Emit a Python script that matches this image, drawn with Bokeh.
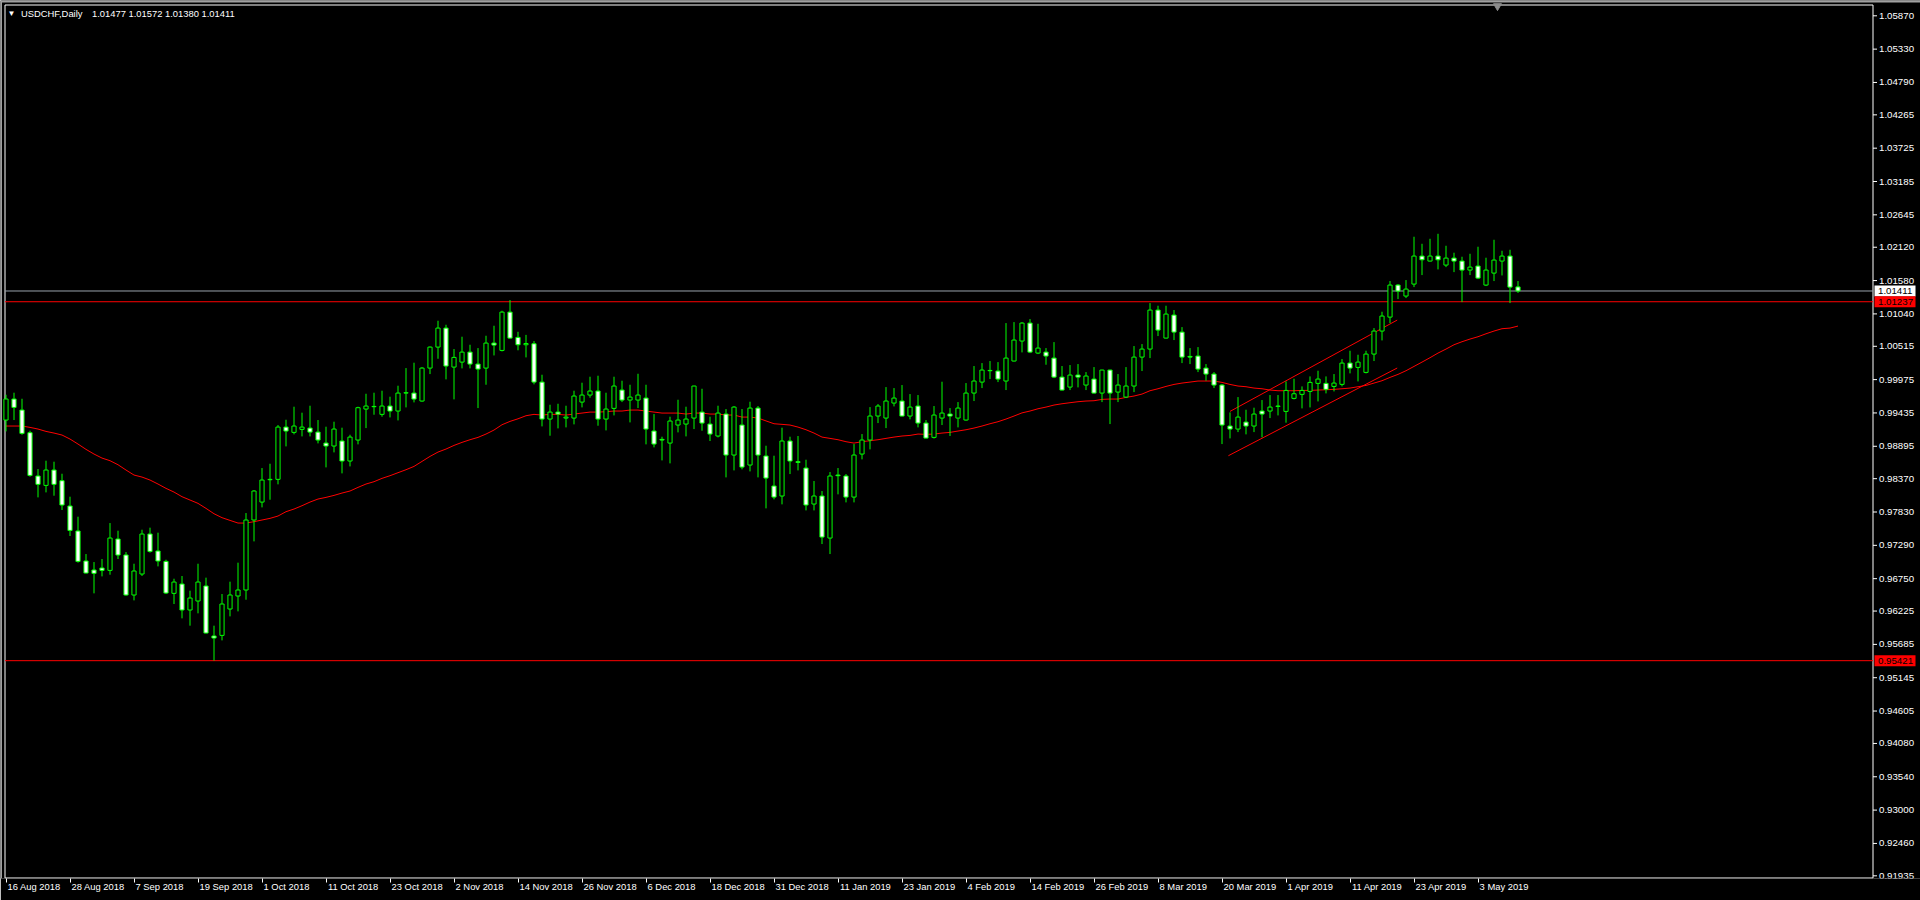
import pandas as pd
from bokeh.plotting import figure
from bokeh.models import Range1d, FixedTicker, Label, ColumnDataSource, CustomJSTickFormatter
from bokeh.core.properties import value
from bokeh.embed import file_html
from bokeh.resources import INLINE

# ---------------- data ----------------
symbol = "USDCHF,Daily"
last_ohlc = [1.01477, 1.01572, 1.01380, 1.01411]

opens = [0.99320, 0.99660, 0.99482, 0.99115, 0.98413, 0.98261, 0.98510, 0.98337, 0.97927, 0.97522,
         0.97036, 0.96890, 0.96922, 0.96884, 0.97392, 0.97133, 0.96485, 0.96825, 0.97473, 0.97198,
         0.97030, 0.96512, 0.96663, 0.96242, 0.96388, 0.96631, 0.95821, 0.95831, 0.96258, 0.96469,
         0.96566, 0.97700, 0.97991, 0.98353, 0.98359, 0.99206, 0.99120, 0.99169, 0.99190, 0.99125,
         0.98947, 0.98899, 0.98980, 0.98656, 0.98996, 0.99498, 0.99541, 0.99412, 0.99547, 0.99466,
         0.99757, 0.99757, 0.99628, 1.00162, 1.00502, 1.00810, 1.00178, 1.00259, 1.00421, 1.00227,
         1.00162, 1.00567, 1.00448, 1.01069, 1.00659, 1.00540, 1.00556, 0.99935, 0.99336, 0.99449,
         0.99352, 0.99352, 0.99611, 0.99725, 0.99790, 0.99336, 0.99509, 0.99806, 0.99644, 0.99644,
         0.99676, 0.99142, 0.99007, 0.98947, 0.99239, 0.99255, 0.99352, 0.99449, 0.99255, 0.99061,
         0.99417, 0.98753, 0.99239, 0.98591, 0.99514, 0.98737, 0.98251, 0.98089, 0.98980, 0.98645,
         0.98542, 0.97959, 0.98089, 0.97408, 0.98429, 0.98413, 0.98072, 0.98769, 0.98996, 0.99385,
         0.99352, 0.99595, 0.99628, 0.99385, 0.99547, 0.99271, 0.99039, 0.99352, 0.99417, 0.99352,
         0.99320, 0.99757, 0.99935, 1.00119, 1.00114, 0.99952, 1.00276, 1.00600, 1.00891, 1.00405,
         1.00421, 1.00324, 1.00016, 0.99854, 1.00049, 0.99887, 0.99984, 0.99757, 1.00130, 0.99773,
         0.99692, 0.99871, 1.00340, 1.00470, 1.01102, 1.00648, 1.01021, 1.00745, 1.00351, 1.00357,
         1.00162, 1.00065, 0.99887, 0.99223, 0.99174, 0.99287, 0.99223, 0.99466, 0.99466, 0.99541,
         0.99460, 0.99671, 0.99736, 0.99784, 0.99914, 0.99914, 0.99865, 0.99898, 1.00243, 1.00173,
         1.00092, 1.00389, 1.00762, 1.00988, 1.01507, 1.01329, 1.01523, 1.01977, 1.01896, 1.01977,
         1.01831, 1.01944, 1.01896, 1.01750, 1.01815, 1.01507, 1.01701, 1.01896, 1.01977, 1.01477]

highs = [0.99730, 0.99763, 0.99665, 0.99147, 0.98526, 0.98661, 0.98645, 0.98450, 0.98078, 0.97754,
         0.97149, 0.97019, 0.97068, 0.97651, 0.97527, 0.97181, 0.96992, 0.97543, 0.97576, 0.97495,
         0.97057, 0.96749, 0.96793, 0.96555, 0.96992, 0.96766, 0.95988, 0.96501, 0.96701, 0.97009,
         0.97813, 0.98186, 0.98542, 0.98612, 0.99239, 0.99325, 0.99536, 0.99439, 0.99552, 0.99320,
         0.99212, 0.99293, 0.99196, 0.99082, 0.99536, 0.99746, 0.99763, 0.99795, 0.99698, 0.99876,
         1.00162, 1.00249, 1.00178, 1.00513, 1.00929, 1.00864, 1.00470, 1.00670, 1.00540, 1.00486,
         1.00686, 1.00848, 1.01091, 1.01264, 1.00750, 1.00700, 1.00600, 1.00054, 0.99568, 0.99584,
         0.99552, 0.99795, 0.99925, 1.00022, 1.00038, 0.99763, 1.00022, 0.99957, 0.99892, 1.00070,
         0.99892, 0.99417, 0.99050, 0.99374, 0.99649, 0.99536, 0.99876, 0.99827, 0.99374, 0.99552,
         0.99498, 0.99547, 0.99498, 0.99617, 0.99547, 0.98904, 0.98742, 0.99196, 0.99050, 0.99061,
         0.98677, 0.98332, 0.98170, 0.98477, 0.98542, 0.98445, 0.98931, 0.99093, 0.99530, 0.99579,
         0.99854, 0.99838, 0.99887, 0.99741, 0.99725, 0.99320, 0.99547, 0.99941, 0.99514, 0.99611,
         0.99919, 1.00195, 1.00243, 1.00276, 1.00259, 1.00891, 1.00907, 1.00907, 1.00956, 1.00880,
         1.00486, 1.00583, 1.00195, 1.00211, 1.00227, 1.00097, 1.00178, 1.00135, 1.00135, 1.00065,
         1.00178, 1.00519, 1.00551, 1.01215, 1.01172, 1.01172, 1.01102, 1.00826, 1.00486, 1.00502,
         1.00227, 1.00097, 0.99903, 0.99444, 0.99692, 0.99487, 0.99520, 0.99644, 0.99725, 0.99725,
         0.99946, 0.99989, 0.99865, 1.00027, 1.00119, 1.00027, 1.00065, 1.00308, 1.00443, 1.00378,
         1.00443, 1.00810, 1.01075, 1.01572, 1.01523, 1.01588, 1.02290, 1.02176, 1.02257, 1.02338,
         1.02144, 1.02031, 1.01966, 1.02014, 1.02128, 1.01950, 1.02241, 1.02063, 1.02079, 1.01572]

lows = [0.99136, 0.99320, 0.99082, 0.98402, 0.98067, 0.98148, 0.98094, 0.97862, 0.97441, 0.97009,
        0.96836, 0.96512, 0.96787, 0.96814, 0.97068, 0.96474, 0.96398, 0.96793, 0.97171, 0.96949,
        0.96501, 0.96339, 0.96107, 0.95988, 0.96188, 0.95864, 0.95421, 0.95750, 0.96139, 0.96220,
        0.96409, 0.97354, 0.97905, 0.98029, 0.98278, 0.98893, 0.99088, 0.99055, 0.99055, 0.98942,
        0.98553, 0.98796, 0.98456, 0.98569, 0.98926, 0.99190, 0.99406, 0.99374, 0.99363, 0.99314,
        0.99525, 0.99606, 0.99617, 1.00065, 1.00313, 0.99979, 0.99655, 1.00157, 1.00157, 0.99514,
        0.99892, 1.00367, 1.00432, 1.00640, 1.00450, 1.00335, 0.99898, 0.99217, 0.99066, 0.99185,
        0.99201, 0.99250, 0.99525, 0.99682, 0.99228, 0.99152, 0.99395, 0.99611, 0.99282, 0.99514,
        0.98926, 0.98877, 0.98666, 0.98618, 0.99120, 0.99055, 0.99174, 0.99147, 0.98980, 0.99039,
        0.98391, 0.98504, 0.98521, 0.98488, 0.98391, 0.97889, 0.98035, 0.97954, 0.98445, 0.98504,
        0.97856, 0.97856, 0.97311, 0.97149, 0.98116, 0.97986, 0.97986, 0.98683, 0.98845, 0.99271,
        0.99190, 0.99541, 0.99380, 0.99331, 0.99201, 0.99023, 0.99020, 0.99239, 0.99061, 0.99201,
        0.99310, 0.99628, 0.99838, 0.99984, 0.99935, 0.99806, 1.00270, 1.00416, 1.00405, 1.00389,
        1.00216, 1.00000, 0.99800, 0.99806, 0.99849, 0.99806, 0.99752, 0.99611, 0.99255, 0.99611,
        0.99676, 0.99773, 1.00114, 1.00324, 1.00681, 1.00643, 1.00616, 1.00243, 1.00227, 1.00097,
        0.99957, 0.99838, 0.98931, 0.99023, 0.99125, 0.99088, 0.99125, 0.99039, 0.99352, 0.99395,
        0.99277, 0.99655, 0.99509, 0.99525, 0.99622, 0.99752, 0.99784, 0.99865, 1.00076, 0.99946,
        1.00076, 1.00276, 1.00610, 1.00891, 1.01280, 1.01296, 1.01474, 1.01669, 1.01890, 1.01761,
        1.01798, 1.01717, 1.01231, 1.01669, 1.01604, 1.01491, 1.01572, 1.01663, 1.01215, 1.01380]

closes = [0.99660, 0.99525, 0.99104, 0.98423, 0.98278, 0.98510, 0.98278, 0.97943, 0.97532, 0.97030,
          0.96841, 0.96836, 0.96884, 0.97408, 0.97133, 0.96485, 0.96874, 0.97473, 0.97192, 0.97036,
          0.96517, 0.96695, 0.96242, 0.96436, 0.96695, 0.95869, 0.95788, 0.96339, 0.96485, 0.96566,
          0.97700, 0.98170, 0.98348, 0.98359, 0.99206, 0.99142, 0.99223, 0.99206, 0.99125, 0.98996,
          0.98899, 0.99174, 0.98656, 0.99044, 0.99520, 0.99547, 0.99536, 0.99547, 0.99466, 0.99757,
          0.99763, 0.99660, 1.00162, 1.00502, 1.00810, 1.00195, 1.00335, 1.00421, 1.00227, 1.00146,
          1.00567, 1.00535, 1.01069, 1.00648, 1.00540, 1.00560, 0.99935, 0.99336, 0.99449, 0.99417,
          0.99368, 0.99709, 0.99725, 0.99790, 0.99336, 0.99498, 0.99871, 0.99644, 0.99692, 0.99725,
          0.99174, 0.98931, 0.98996, 0.99304, 0.99320, 0.99336, 0.99871, 0.99271, 0.99093, 0.99433,
          0.98753, 0.99530, 0.98558, 0.99514, 0.98753, 0.98380, 0.98072, 0.98980, 0.98656, 0.98634,
          0.97943, 0.98089, 0.97424, 0.98413, 0.98418, 0.98072, 0.98753, 0.98996, 0.99385, 0.99547,
          0.99628, 0.99676, 0.99385, 0.99530, 0.99271, 0.99028, 0.99401, 0.99433, 0.99385, 0.99514,
          0.99757, 0.99952, 1.00130, 1.00124, 0.99984, 1.00324, 1.00616, 1.00891, 1.00421, 1.00486,
          1.00357, 1.00016, 0.99806, 1.00049, 1.00016, 1.00033, 0.99757, 1.00130, 0.99757, 0.99887,
          0.99871, 1.00340, 1.00470, 1.01102, 1.00778, 1.01037, 1.00745, 1.00340, 1.00340, 1.00146,
          1.00065, 0.99887, 0.99239, 0.99174, 0.99368, 0.99223, 0.99417, 0.99417, 0.99530, 0.99547,
          0.99800, 0.99746, 0.99800, 0.99930, 0.99984, 0.99817, 0.99919, 1.00243, 1.00162, 1.00259,
          1.00389, 1.00762, 1.01005, 1.01507, 1.01410, 1.01442, 1.01977, 1.01917, 1.01977, 1.01917,
          1.01944, 1.01896, 1.01750, 1.01798, 1.01620, 1.01750, 1.01912, 1.01977, 1.01474, 1.01411]

ma_index = [0, 2, 3, 4, 5, 6, 7, 8, 9, 10, 11, 12, 13, 14, 15, 16, 17, 18, 19, 20,
            21, 22, 23, 24, 25, 26, 27, 28, 29, 30, 31, 32, 33, 34, 35, 36, 37, 38, 39, 40,
            41, 42, 43, 44, 45, 46, 47, 48, 49, 50, 51, 52, 53, 54, 55, 56, 57, 58, 59, 60,
            61, 62, 63, 64, 65, 66, 67, 68, 69, 70, 71, 72, 73, 74, 75, 76, 77, 78, 79, 80,
            81, 82, 83, 84, 85, 86, 87, 88, 89, 90, 91, 92, 93, 94, 95, 96, 97, 98, 99, 100,
            101, 102, 103, 104, 105, 106, 107, 108, 109, 110, 111, 112, 113, 114, 115, 116, 117, 118, 119, 120,
            121, 122, 123, 124, 125, 126, 127, 128, 129, 130, 131, 132, 133, 134, 135, 136, 137, 138, 139, 140,
            141, 142, 143, 144, 145, 146, 147, 148, 149, 150, 151, 152, 153, 154, 155, 156, 157, 158, 159, 160,
            161, 162, 163, 164, 165, 166, 167, 168, 169, 170, 171, 172, 173, 174, 175, 176, 177, 178, 179, 180,
            181, 182, 183, 184, 185, 186, 187, 188, 189]
ma_values = [0.99223, 0.99223, 0.99201, 0.99174, 0.99136, 0.99109, 0.99077, 0.99012, 0.98931, 0.98845,
             0.98769, 0.98704, 0.98661, 0.98596, 0.98510, 0.98429, 0.98396, 0.98348, 0.98283, 0.98213,
             0.98153, 0.98078, 0.98024, 0.97970, 0.97889, 0.97802, 0.97738, 0.97694, 0.97651, 0.97651,
             0.97673, 0.97700, 0.97727, 0.97765, 0.97835, 0.97878, 0.97932, 0.97991, 0.98040, 0.98067,
             0.98099, 0.98137, 0.98170, 0.98229, 0.98283, 0.98321, 0.98375, 0.98418, 0.98467, 0.98515,
             0.98569, 0.98650, 0.98731, 0.98801, 0.98850, 0.98909, 0.98958, 0.99001, 0.99039, 0.99093,
             0.99158, 0.99244, 0.99298, 0.99340, 0.99390, 0.99412, 0.99401, 0.99412, 0.99412, 0.99401,
             0.99417, 0.99433, 0.99449, 0.99449, 0.99455, 0.99466, 0.99466, 0.99482, 0.99482, 0.99466,
             0.99449, 0.99433, 0.99433, 0.99433, 0.99417, 0.99433, 0.99433, 0.99417, 0.99417, 0.99401,
             0.99401, 0.99368, 0.99368, 0.99352, 0.99306, 0.99260, 0.99250, 0.99239, 0.99206, 0.99163,
             0.99109, 0.99044, 0.99023, 0.99001, 0.98969, 0.98947, 0.98969, 0.98985, 0.99001, 0.99023,
             0.99044, 0.99061, 0.99071, 0.99093, 0.99088, 0.99093, 0.99109, 0.99120, 0.99142, 0.99163,
             0.99190, 0.99223, 0.99260, 0.99293, 0.99336, 0.99385, 0.99436, 0.99466, 0.99503, 0.99530,
             0.99563, 0.99584, 0.99601, 0.99617, 0.99628, 0.99633, 0.99655, 0.99660, 0.99660, 0.99687,
             0.99709, 0.99741, 0.99795, 0.99827, 0.99865, 0.99897, 0.99919, 0.99935, 0.99952, 0.99952,
             0.99952, 0.99930, 0.99897, 0.99871, 0.99860, 0.99838, 0.99827, 0.99806, 0.99795, 0.99795,
             0.99795, 0.99800, 0.99800, 0.99806, 0.99811, 0.99817, 0.99827, 0.99838, 0.99860, 0.99881,
             0.99919, 0.99957, 1.00011, 1.00060, 1.00119, 1.00189, 1.00259, 1.00330, 1.00405, 1.00470,
             1.00540, 1.00589, 1.00632, 1.00670, 1.00718, 1.00762, 1.00800, 1.00810, 1.00843]

# channel trend lines (bar index, price): start -> end
trend_x0 = [152.8, 153.0]
trend_y0 = [0.98742, 0.99460]
trend_x1 = [173.9, 173.9]
trend_y1 = [1.00163, 1.00940]

price_ticks = [1.05870, 1.05330, 1.04790, 1.04265, 1.03725, 1.03185, 1.02645, 1.02120, 1.01580,
               1.01040, 1.00515, 0.99975, 0.99435, 0.98895, 0.98370, 0.97830, 0.97290, 0.96750,
               0.96225, 0.95685, 0.95145, 0.94605, 0.94080, 0.93540, 0.93000, 0.92460, 0.91935]

resistance_level = 1.01237
support_level = 0.95421
bid_level = 1.01411

holidays = ["2018-12-25", "2019-01-01"]
bar_dates = pd.bdate_range("2018-08-16", "2019-05-10")
bar_dates = bar_dates[~bar_dates.isin(pd.to_datetime(holidays))]
label_step = 8

# ---------------- layout (reference pixels, 1:1) ----------------
W, H = 1920, 900
BOTTOM_BORDER = 22           # date-label strip below the chart frame
FRAME_BOTTOM = H - BOTTOM_BORDER
BAR_PX = 8.0                 # bar spacing in pixels
PRICE_PER_PX = 0.00016203
REF_PRICE, REF_Y = 1.05870, 15.3


def dx(px):
    """pixel x -> bar index"""
    return (px - 5.5) / BAR_PX


def dy(py):
    """pixel y -> price"""
    return REF_PRICE - (py - REF_Y) * PRICE_PER_PX


FONT = "Liberation Sans"
GREEN = "#00ff00"
RED = "#ff0000"
BID_GRAY = "#99a2ac"
EDGE_GRAY = "#a0a0a0"
DATE_FS = 9.4
PRICE_FS = 9.7
TITLE_FS = 9.4

CHAR_W = {" ": 278, ".": 278, "A": 667, "u": 556, "g": 556, "S": 667, "e": 556, "p": 556,
          "O": 778, "c": 500, "t": 278, "N": 722, "o": 556, "v": 500, "D": 722, "J": 500,
          "a": 556, "n": 556, "F": 611, "b": 556, "M": 833, "r": 333, "y": 500}


def text_w(s, size):
    return sum(CHAR_W.get(ch, 556) for ch in s) * size / 1000.0


p = figure(width=W, height=H,
           min_border_left=0, min_border_top=0, min_border_right=0, min_border_bottom=BOTTOM_BORDER,
           output_backend="svg", toolbar_location=None,
           x_range=Range1d(dx(0), dx(W)),
           y_range=Range1d(dy(FRAME_BOTTOM), dy(0)),
           y_axis_location=None,
           background_fill_color="black", border_fill_color="black")
p.grid.visible = False
p.outline_line_color = None

# ---------------- x axis: dates, text starting just right of the tick ----------------
n = len(opens)
tick_idx = list(range(0, n, label_step))
date_labels = [f"{bar_dates[i].day} {bar_dates[i].strftime('%b %Y')}" for i in tick_idx]
label_pos = [i + (1.5 + text_w(lbl, DATE_FS) / 2) / BAR_PX for i, lbl in zip(tick_idx, date_labels)]
xa = p.xaxis[0]
xa.ticker = FixedTicker(ticks=label_pos, minor_ticks=tick_idx)
xa.formatter = CustomJSTickFormatter(args=dict(pos=label_pos, labels=date_labels), code="""
    let best = -1, d = 1e9;
    for (let k = 0; k < pos.length; k++) { const e = Math.abs(pos[k] - tick); if (e < d) { d = e; best = k; } }
    return d < 1e-6 ? labels[best] : "";
""")
xa.axis_line_color = None
xa.major_tick_line_color = None
xa.major_tick_in = 0
xa.major_tick_out = 0
xa.minor_tick_line_color = "white"
xa.minor_tick_in = 0
xa.minor_tick_out = 4
xa.major_label_text_color = "white"
xa.major_label_text_font = FONT
xa.major_label_text_font_size = f"{DATE_FS}px"
xa.major_label_standoff = -2

# ---------------- window edge and chart frame ----------------
p.quad(left=[dx(0), dx(0)], right=[dx(W), dx(1.5)], top=[dy(0), dy(0)], bottom=[dy(2), dy(FRAME_BOTTOM)],
       fill_color=EDGE_GRAY, line_color=None)
fx0, fx1 = dx(4.5), dx(1872.5)
fy0, fy1 = dy(FRAME_BOTTOM - 0.5), dy(4.5)
p.segment(x0=[fx0, fx0, fx0, fx1], y0=[fy0, fy1, fy0, fy0],
          x1=[fx0, fx1, fx1, fx1], y1=[fy1, fy1, fy0, fy1], line_color="white", line_width=1)

# ---------------- price scale (right) ----------------
p.segment(x0=[fx1] * len(price_ticks), x1=[dx(1876.5)] * len(price_ticks),
          y0=price_ticks, y1=price_ticks, line_color="white", line_width=1)
p.text(x=[dx(1878.5)] * len(price_ticks), y=price_ticks, text=[f"{t:.5f}" for t in price_ticks],
       text_color="white", text_font=value(FONT), text_font_size=f"{PRICE_FS}px",
       text_baseline="middle", text_align="left")

# ---------------- horizontal levels ----------------
levels = [bid_level, resistance_level, support_level]
level_colors = [BID_GRAY, RED, RED]
p.segment(x0=[fx0] * 3, x1=[fx1] * 3, y0=levels, y1=levels, line_color=level_colors, line_width=1)

half_box = 5.5 * PRICE_PER_PX
p.quad(left=[dx(1874)] * 3, right=[dx(1915)] * 3,
       top=[v + half_box for v in levels], bottom=[v - half_box for v in levels],
       fill_color=["white", RED, RED], line_color=None)
p.text(x=[dx(1877.5)] * 3, y=levels, text=[f"{v:.5f}" for v in levels],
       text_color="black", text_font=value(FONT), text_font_size=f"{PRICE_FS}px",
       text_baseline="middle", text_align="left")

# ---------------- moving average and channel ----------------
p.line(ma_index, ma_values, line_color=RED, line_width=1)
p.segment(x0=trend_x0, y0=trend_y0, x1=trend_x1, y1=trend_y1, line_color=RED, line_width=1)

# ---------------- candles ----------------
idx = list(range(n))
hw = 0.26
src = ColumnDataSource(dict(
    x=idx,
    left=[i - hw for i in idx],
    right=[i + hw for i in idx],
    top=[max(o, c) for o, c in zip(opens, closes)],
    bottom=[min(o, c) for o, c in zip(opens, closes)],
    high=highs, low=lows,
    fill=["black" if c >= o else "white" for o, c in zip(opens, closes)],
))
p.segment(x0="x", y0="high", x1="x", y1="low", source=src, line_color=GREEN, line_width=1)
p.quad(left="left", right="right", top="top", bottom="bottom", source=src,
       fill_color="fill", line_color=GREEN, line_width=1)

# ---------------- header ----------------
ty = dy(13.3)
p.add_layout(Label(x=dx(7.0), y=ty, text="\u25bc", text_color="white", text_font=FONT,
                   text_font_size="8px", text_baseline="middle", text_align="left"))
p.add_layout(Label(x=dx(20.5), y=ty, text=symbol, text_color="white", text_font=FONT,
                   text_font_size=f"{TITLE_FS}px", text_baseline="middle", text_align="left"))
p.add_layout(Label(x=dx(91.5), y=ty, text=" ".join(f"{v:.5f}" for v in last_ohlc),
                   text_color="white", text_font=FONT, text_font_size=f"{TITLE_FS}px",
                   text_baseline="middle", text_align="left"))

# chart-shift marker at the top border
p.scatter(x=[dx(1497)], y=[dy(5.5)], marker="inverted_triangle", size=8,
          fill_color="#8c8c8c", line_color="#8c8c8c")

open("out.html", "w").write(file_html(p, INLINE))
